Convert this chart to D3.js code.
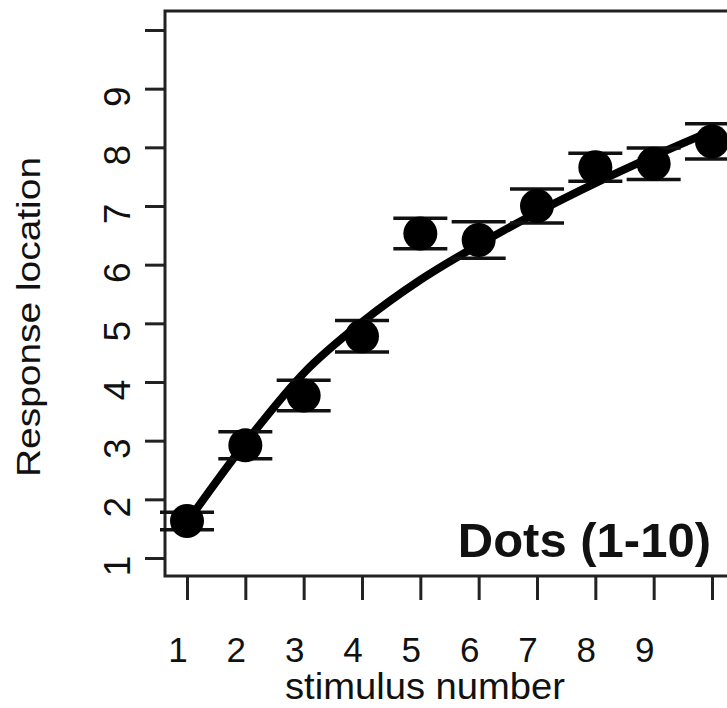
<!DOCTYPE html>
<html>
<head>
<meta charset="utf-8">
<script src="https://cdn.jsdelivr.net/npm/d3@7/dist/d3.min.js"></script>
<style>
  html, body { margin: 0; padding: 0; background: #fff; }
  svg { display: block; }
  text { font-family: "Liberation Sans", Arial, Helvetica, sans-serif; fill: #111; }
</style>
</head>
<body>
<svg id="mainsvg" width="727" height="708"></svg>
<script>
// values
var stimulus = [1, 2, 3, 4, 5, 6, 7, 8, 9, 10];
var meanResponse = [1.63, 2.92, 3.77, 4.78, 6.53, 6.42, 7.00, 7.66, 7.72, 8.10];
var semResponse = [0.15, 0.23, 0.26, 0.27, 0.26, 0.31, 0.29, 0.24, 0.27, 0.30];
var fitResponse = [1.61, 2.96, 4.15, 5.02, 5.74, 6.34, 6.89, 7.39, 7.85, 8.28];
var yTicks = [1, 2, 3, 4, 5, 6, 7, 8, 9, 10];
var xTickLabels = ["1", "2", "3", "4", "5", "6", "7", "8", "9", ""];
var yTickLabels = ["1", "2", "3", "4", "5", "6", "7", "8", "9", ""];
var panelLabel = "Dots (1-10)";

var svg = d3.select("#mainsvg");

var x = d3.scaleLinear().domain([1, 10]).range([187, 712]);
var y = d3.scaleLinear().domain([1, 10]).range([558, 30]);

var frame = {left: 165, top: 11, bottom: 576};
var axisColor = "#222";

// box round the plot (right side falls outside the picture)
svg.append("rect")
    .attr("x", frame.left)
    .attr("y", frame.top)
    .attr("width", 640)
    .attr("height", frame.bottom - frame.top)
    .attr("fill", "none")
    .attr("stroke", axisColor)
    .attr("stroke-width", 3);

// y axis
var yAxis = svg.append("g")
    .attr("transform", "translate(" + frame.left + ",0)")
    .call(d3.axisLeft(y).tickValues(yTicks).tickSize(20).tickFormat(""));
yAxis.select(".domain").remove();
yAxis.selectAll(".tick line").attr("stroke", axisColor).attr("stroke-width", 3);

svg.append("g").selectAll("text")
    .data(yTicks)
    .join("text")
    .attr("transform", function(d){
        return "translate(130," + (y(d) + 8) + ") rotate(-90)";
    })
    .attr("text-anchor", "middle")
    .style("font-size", "37px")
    .text(function(d, i){ return yTickLabels[i]; });

// x axis
var xAxis = svg.append("g")
    .attr("transform", "translate(0," + frame.bottom + ")")
    .call(d3.axisBottom(x).tickValues(stimulus).tickSize(24).tickFormat(""));
xAxis.select(".domain").remove();
xAxis.selectAll(".tick line").attr("stroke", axisColor).attr("stroke-width", 3);

svg.append("g").selectAll("text")
    .data(stimulus)
    .join("text")
    .attr("x", function(d){ return x(d) - 9; })
    .attr("y", 662)
    .attr("text-anchor", "middle")
    .style("font-size", "35px")
    .text(function(d, i){ return xTickLabels[i]; });

// axis titles
svg.append("text")
    .attr("transform", "translate(40,317) rotate(-90)")
    .attr("text-anchor", "middle")
    .attr("textLength", 320)
    .attr("lengthAdjust", "spacingAndGlyphs")
    .style("font-size", "33px")
    .text("Response location");

svg.append("text")
    .attr("x", 425)
    .attr("y", 699)
    .attr("text-anchor", "middle")
    .attr("textLength", 280)
    .attr("lengthAdjust", "spacingAndGlyphs")
    .style("font-size", "36px")
    .text("stimulus number");

// fitted curve
var line = d3.line()
    .x(function(d, i){ return x(stimulus[i]); })
    .y(function(d){ return y(d); })
    .curve(d3.curveMonotoneX);

svg.append("path")
    .datum(fitResponse)
    .attr("d", line)
    .attr("fill", "none")
    .attr("stroke", "#000")
    .attr("stroke-width", 8)
    .attr("stroke-linecap", "round");

// error bars
var capHalf = 27;
var bars = svg.append("g").selectAll("g")
    .data(stimulus)
    .join("g");

bars.append("line")
    .attr("x1", function(d){ return x(d); })
    .attr("x2", function(d){ return x(d); })
    .attr("y1", function(d, i){ return y(meanResponse[i] + semResponse[i]); })
    .attr("y2", function(d, i){ return y(meanResponse[i] - semResponse[i]); })
    .attr("stroke", "#000")
    .attr("stroke-width", 3);

[1, -1].forEach(function(sign){
    bars.append("line")
        .attr("x1", function(d){ return x(d) - capHalf; })
        .attr("x2", function(d){ return x(d) + capHalf; })
        .attr("y1", function(d, i){ return y(meanResponse[i] + sign * semResponse[i]); })
        .attr("y2", function(d, i){ return y(meanResponse[i] + sign * semResponse[i]); })
        .attr("stroke", "#111")
        .attr("stroke-width", 3.5);
});

// means
svg.append("g").selectAll("circle")
    .data(stimulus)
    .join("circle")
    .attr("cx", function(d){ return x(d); })
    .attr("cy", function(d, i){ return y(meanResponse[i]); })
    .attr("r", 17)
    .attr("fill", "#000");

// panel label
svg.append("text")
    .attr("x", 711)
    .attr("y", 557)
    .attr("text-anchor", "end")
    .style("font-size", "49px")
    .style("font-weight", "bold")
    .text(panelLabel);
</script>
</body>
</html>
